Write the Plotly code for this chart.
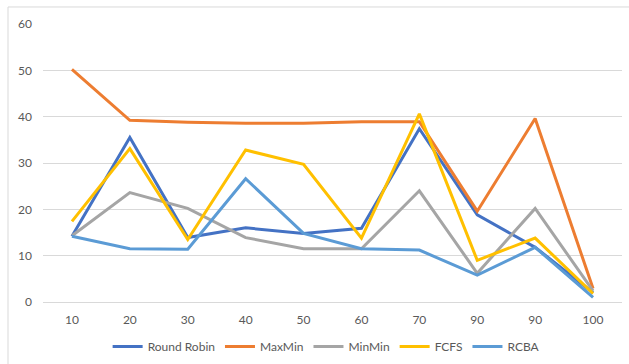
import plotly.graph_objects as go

# Category labels along the x axis (the label "90" appears twice)
x_labels = ["10", "20", "30", "40", "50", "60", "70", "90", "90", "100"]

round_robin = [14.2, 35.5, 13.9, 16.0, 14.8, 15.9, 37.4, 18.8, 11.8, 2.0]
max_min = [50.2, 39.2, 38.8, 38.6, 38.6, 38.9, 38.9, 19.6, 39.6, 2.9]
min_min = [14.3, 23.6, 20.2, 13.9, 11.5, 11.5, 24.0, 6.2, 20.2, 2.4]
fcfs = [17.4, 33.1, 13.5, 32.8, 29.7, 13.8, 40.6, 9.0, 13.8, 1.8]
rcba = [14.2, 11.5, 11.4, 26.6, 14.8, 11.5, 11.2, 5.8, 11.8, 1.0]

series = [
    ("Round Robin", round_robin, "#4472C4"),
    ("MaxMin", max_min, "#ED7D31"),
    ("MinMin", min_min, "#A5A5A5"),
    ("FCFS", fcfs, "#FFC000"),
    ("RCBA", rcba, "#5B9BD5"),
]

x_pos = list(range(len(x_labels)))
font_family = "Lato, Open Sans, sans-serif"

fig = go.Figure()
for name, values, color in series:
    fig.add_trace(go.Scatter(
        x=x_pos, y=values, name=name, mode="lines",
        line=dict(color=color, width=3),
    ))

plot_w = 579
plot_h = 277.7

fig.update_layout(
    width=629, height=364,
    margin=dict(l=43, r=7, t=24, b=62.3, autoexpand=False),
    paper_bgcolor="white", plot_bgcolor="white",
    font=dict(family=font_family, size=12, color="#595959"),
    showlegend=True,
    legend=dict(
        orientation="h", x=0.489, xanchor="center", y=-0.108, yanchor="top",
        font=dict(size=12, color="#595959"),
        itemwidth=30, tracegroupgap=0,
    ),
    xaxis=dict(
        range=[-0.5, len(x_labels) - 0.5],
        tickmode="array", tickvals=x_pos, ticktext=x_labels,
        showgrid=False, zeroline=False, showline=True,
        linecolor="#d9d9d9", linewidth=1, ticks="", ticklabelstandoff=7,
    ),
    yaxis=dict(
        range=[0, 60], dtick=10, showgrid=True, gridcolor="#d9d9d9",
        gridwidth=1, zeroline=False, showline=False, ticks="",
        ticklabelstandoff=10,
    ),
    shapes=[dict(
        type="rect", xref="paper", yref="paper",
        x0=-35 / plot_w, x1=1.2, y0=-0.3, y1=1 + 17 / plot_h,
        line=dict(color="#d9d9d9", width=1), fillcolor="rgba(0,0,0,0)",
        layer="above",
    )],
)

fig.write_html("out.html")
